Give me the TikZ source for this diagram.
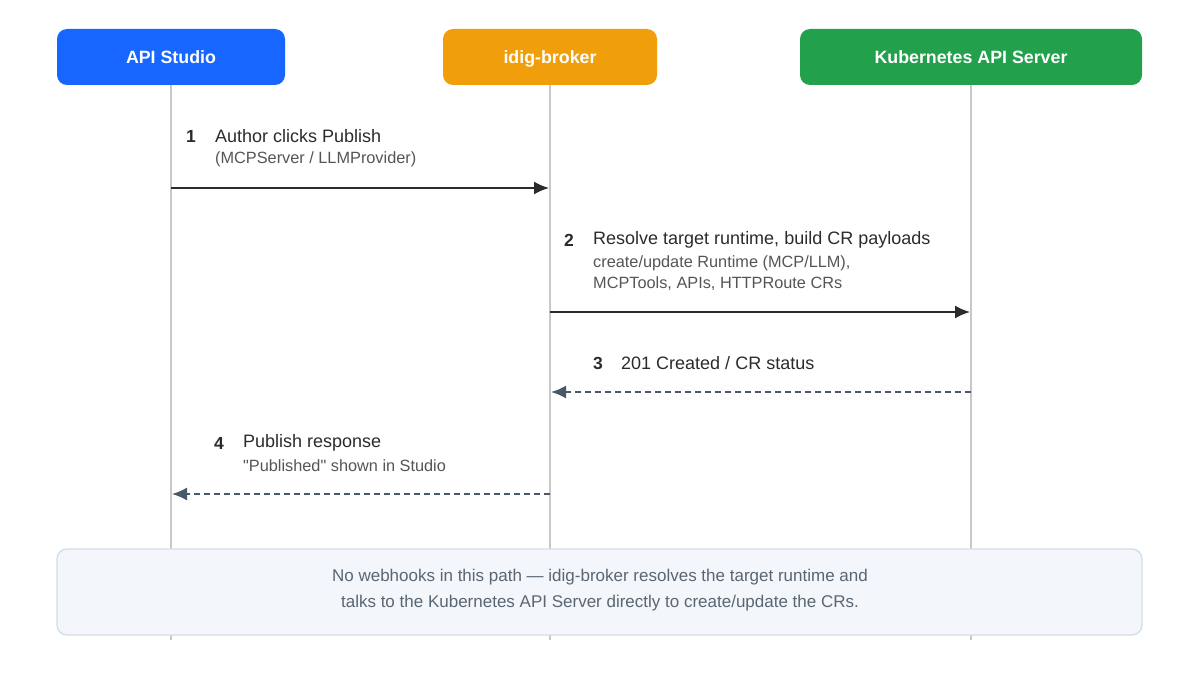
\documentclass[tikz,border=0pt]{standalone}
\usepackage{fontspec}
\setmainfont{Liberation Sans}
\usetikzlibrary{arrows.meta}
\definecolor{cblue}{HTML}{1766FF}
\definecolor{corange}{HTML}{F09E0A}
\definecolor{cgreen}{HTML}{22A04B}
\definecolor{life}{HTML}{C8C8C8}
\definecolor{ink}{HTML}{2B2B2B}
\definecolor{sub}{HTML}{555555}
\definecolor{retcol}{HTML}{4A5868}
\definecolor{notef}{HTML}{F3F6FA}
\definecolor{notel}{HTML}{D3DCE6}
\definecolor{notet}{HTML}{5A6672}
\begin{document}
\begin{tikzpicture}[x=1pt,y=-1pt,
  actor/.style={text=white,font=\fontsize{17.8}{20}\selectfont\bfseries,text depth=0pt,anchor=base},
  lifeline/.style={life,line width=1.8pt},
  msg/.style={ink,line width=1.8pt,-{Latex[length=15pt,width=13pt]}},
  ret/.style={retcol,line width=1.8pt,dash pattern=on 6pt off 4pt,-{Latex[length=15pt,width=13pt]}},
  num/.style={anchor=west,font=\fontsize{17.5}{20}\selectfont\bfseries,text=ink,inner sep=0},
  lab/.style={anchor=west,font=\fontsize{18}{20}\selectfont,text=ink,inner sep=0},
  sl/.style={anchor=west,font=\fontsize{16.3}{18}\selectfont,text=sub,inner sep=0}]
\useasboundingbox (0,0) rectangle (1200,685);
\coordinate (l1t) at (171,85); \coordinate (l1b) at (171,640);
\coordinate (l2t) at (550,85); \coordinate (l2b) at (550,640);
\coordinate (l3t) at (971,85); \coordinate (l3b) at (971,640);
\draw[lifeline] (l1t)--(l1b); \draw[lifeline] (l2t)--(l2b); \draw[lifeline] (l3t)--(l3b);
\fill[cblue,rounded corners=10pt] (57,29) rectangle (285,85);
\node[actor] (a) at (171,63.5) {API Studio};
\fill[corange,rounded corners=10pt] (443,29) rectangle (657,85);
\node[actor] (b) at (550,63.5) {idig-broker};
\fill[cgreen,rounded corners=10pt] (800,29) rectangle (1142,85);
\node[actor] (k) at (971,63.5) {Kubernetes API Server};
% 1
\node[num] (n1) at (186,136) {1};
\node[lab] (t1) at (215,136) {Author clicks Publish};
\node[sl] (s1) at (215,159) {(MCPServer / LLMProvider)};
\coordinate (m1a) at (171,188); \coordinate (m1b) at (549,188);
\draw[msg] (m1a)--(m1b);
% 2
\node[num] (n2) at (564,240) {2};
\node[lab] (t2) at (593,240) {Resolve target runtime, build CR payloads};
\node[sl] (s2) at (593,263) {create/update Runtime (MCP/LLM),};
\node[sl] (s2b) at (593,284) {MCPTools, APIs, HTTPRoute CRs};
\coordinate (m2a) at (550,312); \coordinate (m2b) at (970,312);
\draw[msg] (m2a)--(m2b);
% 3
\node[num] (n3) at (593,363) {3};
\node[lab] (t3) at (621,363) {201 Created / CR status};
\coordinate (m3a) at (971,392); \coordinate (m3b) at (551,392);
\draw[ret] (m3a)--(m3b);
% 4
\node[num] (n4) at (214,443) {4};
\node[lab] (t4) at (243,443) {Publish response};
\node[sl] (s4) at (243,466) {\textquotedbl Published\textquotedbl\ shown in Studio};
\coordinate (m4a) at (550,494); \coordinate (m4b) at (172,494);
\draw[ret] (m4a)--(m4b);
% note
\draw[notel,fill=notef,line width=1.2pt,rounded corners=10pt] (57,549) rectangle (1142,635);
\node[align=center,font=\fontsize{17}{26}\selectfont,text=notet] (note) at (600,590) {No webhooks in this path — idig-broker resolves the target runtime and\\talks to the Kubernetes API Server directly to create/update the CRs.};
\end{tikzpicture}
\end{document}
